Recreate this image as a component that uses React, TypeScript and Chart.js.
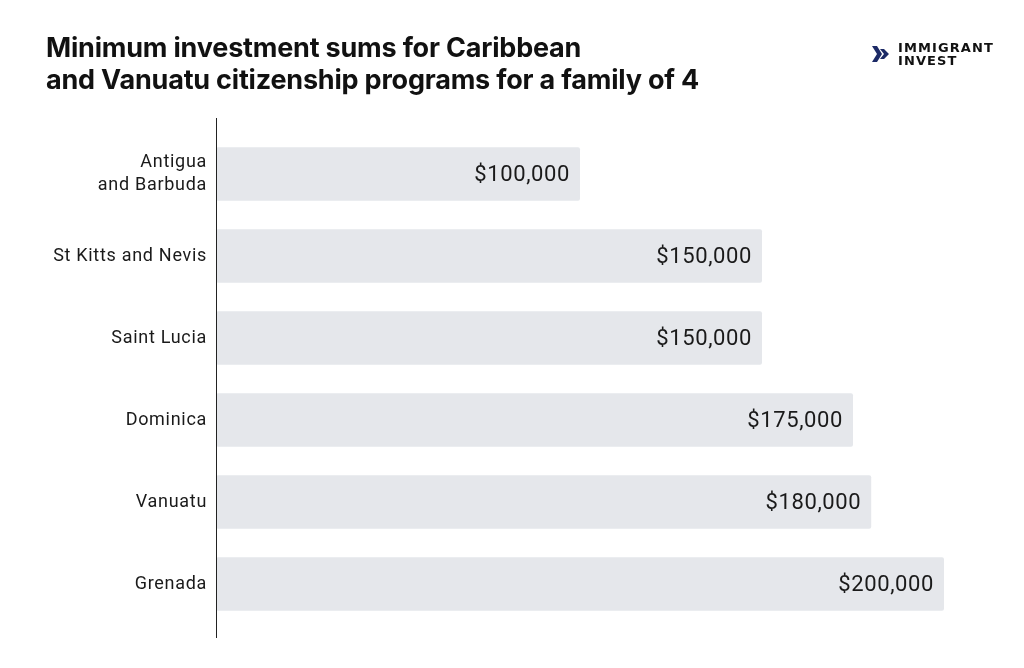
import React, { useEffect, useRef } from "react";
import { Chart, registerables } from "chart.js";

Chart.register(...registerables);

const categories: (string | string[])[] = [
  ["Antigua", "and Barbuda"],
  "St Kitts and Nevis",
  "Saint Lucia",
  "Dominica",
  "Vanuatu",
  "Grenada",
];
const values: number[] = [100000, 150000, 150000, 175000, 180000, 200000];
const valueLabels: string[] = ["$100,000", "$150,000", "$150,000", "$175,000", "$180,000", "$200,000"];
const titleLines: string[] = [
  "Minimum investment sums for Caribbean",
  "and Vanuatu citizenship programs for a family of 4",
];
const logoLines: string[] = ["IMMIGRANT", "INVEST"];

export default function App() {
  const canvasRef = useRef<HTMLCanvasElement | null>(null);

  useEffect(() => {
    document.body.style.margin = "0";
    const canvas = canvasRef.current;
    if (!canvas) return;

    const spacingPlugin = {
      id: "spacing",
      beforeLayout(chart: any) {
        chart.ctx.letterSpacing = "0.7px";
      },
      beforeDraw(chart: any) {
        chart.ctx.letterSpacing = "0.7px";
      },
    };

    const valuePlugin = {
      id: "valueLabels",
      afterDatasetsDraw(chart: any) {
        const ctx = chart.ctx;
        const meta = chart.getDatasetMeta(0);
        ctx.save();
        ctx.letterSpacing = "0.6px";
        ctx.font = "22px Roboto";
        ctx.fillStyle = "#1a1a1a";
        ctx.textAlign = "right";
        ctx.textBaseline = "middle";
        meta.data.forEach((bar: any, i: number) => {
          ctx.fillText(valueLabels[i], bar.x - 10, bar.y + 1);
        });
        ctx.restore();
      },
    };

    const axisLinePlugin = {
      id: "axisLine",
      afterDraw(chart: any) {
        const { ctx, chartArea } = chart;
        ctx.save();
        ctx.strokeStyle = "#222";
        ctx.lineWidth = 1;
        ctx.beginPath();
        ctx.moveTo(Math.round(chartArea.left) + 0.5, chartArea.top - 15);
        ctx.lineTo(Math.round(chartArea.left) + 0.5, chartArea.bottom + 13);
        ctx.stroke();
        ctx.restore();
      },
    };

    const chart = new Chart(canvas, {
      type: "bar",
      data: {
        labels: categories,
        datasets: [
          {
            data: values,
            backgroundColor: "#e5e7eb",
            borderWidth: 0,
            borderSkipped: false,
            borderRadius: 2,
            categoryPercentage: 1,
            barPercentage: 0.65,
          },
        ],
      },
      options: {
        indexAxis: "y",
        animation: false,
        responsive: false,
        maintainAspectRatio: false,
        layout: { padding: { left: 0, right: 80, top: 133, bottom: 43 } },
        plugins: {
          legend: { display: false },
          tooltip: { enabled: false },
          title: { display: false },
        },
        scales: {
          x: {
            display: false,
            min: 0,
            max: 200000,
          },
          y: {
            afterFit(scale: any) {
              scale.width = 216;
            },
            border: { display: false },
            grid: { display: false, drawTicks: false },
            ticks: {
              padding: 9,
              color: "#1a1a1a",
              font: { family: "Roboto", size: 18, lineHeight: 1.3 },
            },
          },
        },
      },
      plugins: [spacingPlugin, valuePlugin, axisLinePlugin],
    });

    return () => chart.destroy();
  }, []);

  return (
    <div style={{ position: "relative", width: 1024, height: 668, background: "#fff" }}>
      <canvas ref={canvasRef} width={1024} height={668} style={{ position: "absolute", left: 0, top: 0 }} />
      <div
        style={{
          position: "absolute",
          left: 46,
          top: 32,
          fontFamily: "Inter, 'Noto Sans', sans-serif",
          fontWeight: 700,
          fontSize: 27,
          lineHeight: "32px",
          color: "#111",
          letterSpacing: -0.2,
        }}
      >
        {titleLines.map((l, i) => (
          <div key={i}>{l}</div>
        ))}
      </div>
      <div style={{ position: "absolute", left: 872, top: 41, display: "flex", alignItems: "center" }}>
        <svg width="19" height="18" viewBox="0 0 19 18">
          <polygon points="0,1 5,1 10,9 5,17 0,17 5,9" fill="#1c2a66" />
          <polygon points="8,4 12,4 17,9 12,14 8,14 12,9" fill="#1c2a66" />
        </svg>
        <div
          style={{
            marginLeft: 7,
            fontFamily: "'DejaVu Sans', sans-serif",
            fontWeight: 700,
            fontSize: 13,
            lineHeight: "13px",
            color: "#111",
            letterSpacing: 1.1,
          }}
        >
          {logoLines.map((l, i) => (
            <div key={i}>{l}</div>
          ))}
        </div>
      </div>
    </div>
  );
}
